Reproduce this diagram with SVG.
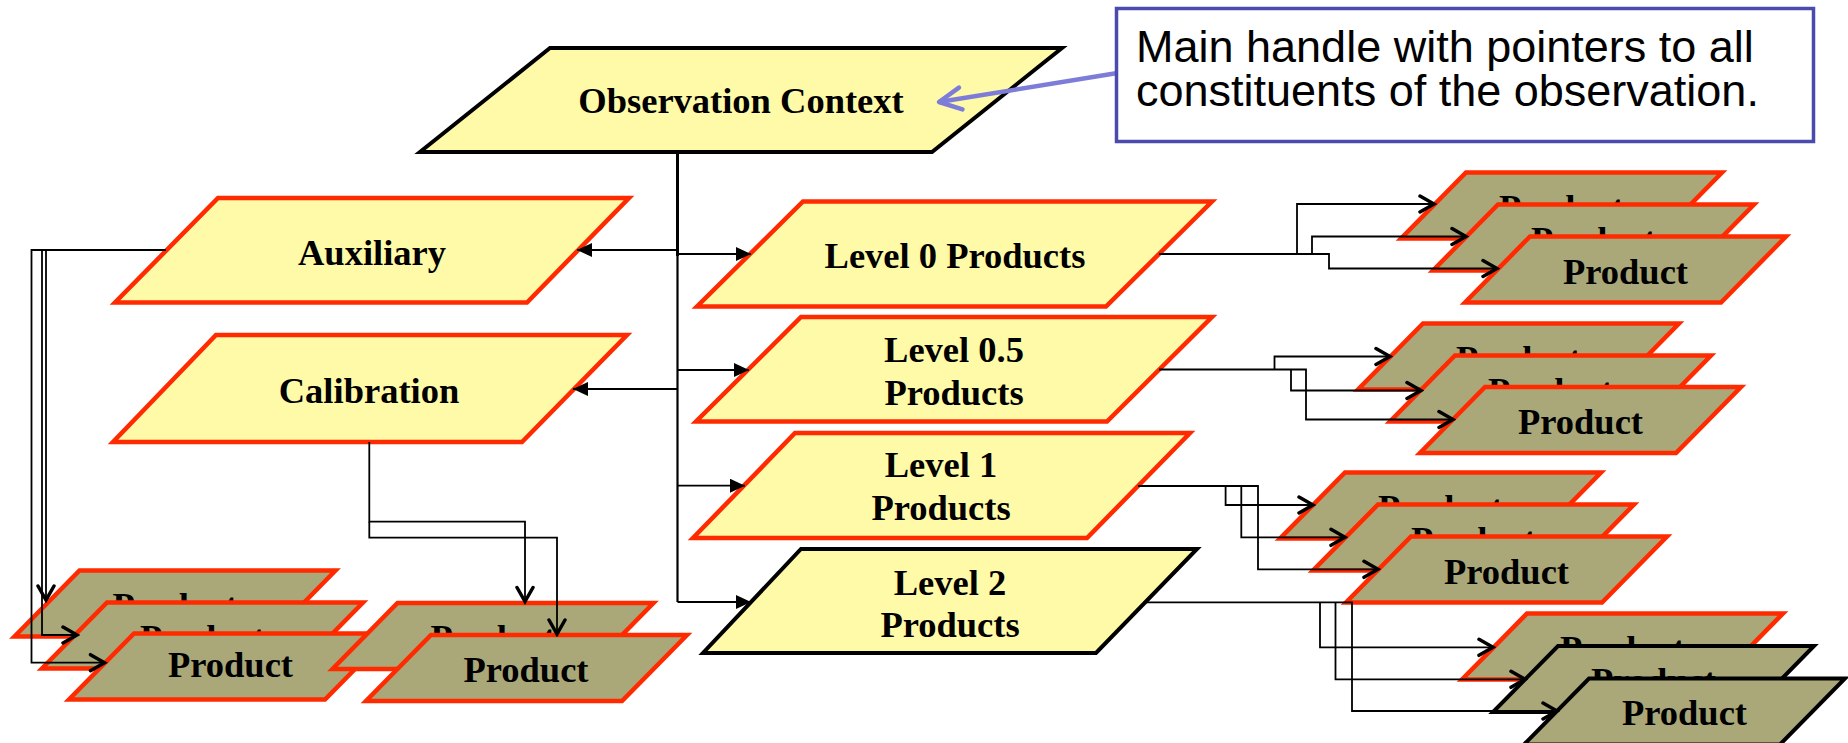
<svg xmlns="http://www.w3.org/2000/svg" xmlns:xlink="http://www.w3.org/1999/xlink" width="1848" height="743" viewBox="0 0 1848 743">
  <style>
    .node { fill: #fffaa8; stroke-linejoin: miter; }
    .red { stroke: #ff2a00; stroke-width: 4.5; }
    .blk { stroke: #000000; stroke-width: 4; }
    .prod { fill: #aaa878; stroke-linejoin: miter; }
    .lbl { font-family: "Liberation Serif", "Times New Roman", serif; font-weight: bold; font-size: 36.5px; text-anchor: middle; fill: #000; }
    .note-txt { font-family: "Liberation Sans", Arial, sans-serif; font-size: 45px; fill: #000; }
    .wire { fill: none; stroke: #000; stroke-width: 1.8; }
    .trunk { fill: none; stroke: #000; stroke-width: 3; }
  </style>
  <defs>
    <!-- product parallelogram, origin at bounding-box top-left -->
    <path id="prodShape" d="M65,0 H321 L256,66 H0 Z"/>
    <marker id="tri" viewBox="0 0 15 14" refX="15" refY="7" markerWidth="15" markerHeight="14" markerUnits="userSpaceOnUse" orient="auto">
      <path d="M0,0 L15,7 L0,14 Z" fill="#000"/>
    </marker>
    <marker id="vee" viewBox="-17 -11 20 22" refX="0" refY="0" markerWidth="20" markerHeight="22" markerUnits="userSpaceOnUse" orient="auto">
      <path d="M-14,-8 L0,0 L-14,8" fill="none" stroke="#000" stroke-width="3.5" stroke-linecap="round" stroke-linejoin="miter"/>
    </marker>
    <marker id="veeBlue" viewBox="-26 -15 30 30" refX="0" refY="0" markerWidth="30" markerHeight="30" markerUnits="userSpaceOnUse" orient="auto">
      <path d="M-22,-11 L0,0 L-22,11" fill="none" stroke="#7d7dd9" stroke-width="4.5" stroke-linecap="round" stroke-linejoin="round"/>
    </marker>
  </defs>

  <rect width="1848" height="743" fill="#ffffff"/>

  <!-- main nodes -->
  <g id="n-obs">
    <polygon class="node blk" points="550,48 1062,48 932,152 420,152"/>
    <text class="lbl" x="741" y="113">Observation Context</text>
  </g>
  <g id="n-aux">
    <polygon class="node red" points="218,198 629,198 527,302.5 115,302.5"/>
    <text class="lbl" x="372" y="265">Auxiliary</text>
  </g>
  <g id="n-cal">
    <polygon class="node red" points="216,335 627,335 522,442 113,442"/>
    <text class="lbl" x="369" y="403">Calibration</text>
  </g>
  <g id="n-l0">
    <polygon class="node red" points="803,201.5 1212,201.5 1106,306.5 697,306.5"/>
    <text class="lbl" x="955" y="268">Level 0 Products</text>
  </g>
  <g id="n-l05">
    <polygon class="node red" points="801,317 1212,317 1107,421.5 696,421.5"/>
    <text class="lbl" x="954" y="362">Level 0.5</text>
    <text class="lbl" x="954" y="405">Products</text>
  </g>
  <g id="n-l1">
    <polygon class="node red" points="795,433 1190,433 1087,538 693,538"/>
    <text class="lbl" x="941" y="477">Level 1</text>
    <text class="lbl" x="941" y="520">Products</text>
  </g>
  <g id="n-l2">
    <polygon class="node blk" points="801,549 1197,549 1096,653 703,653"/>
    <text class="lbl" x="950" y="595">Level 2</text>
    <text class="lbl" x="950" y="637">Products</text>
  </g>

  <!-- Level 0 product stack -->
  <g id="p-l0-1"><use xlink:href="#prodShape" x="1401" y="172.5" class="prod red"/><text class="lbl" x="1561.5" y="219.5">Product</text></g>
  <g id="p-l0-2"><use xlink:href="#prodShape" x="1433" y="204.5" class="prod red"/><text class="lbl" x="1593.5" y="251.5">Product</text></g>
  <g id="p-l0-3"><use xlink:href="#prodShape" x="1465" y="236.5" class="prod red"/><text class="lbl" x="1625.5" y="283.5">Product</text></g>

  <!-- Level 0.5 product stack -->
  <g id="p-l05-1"><use xlink:href="#prodShape" x="1358" y="323.5" class="prod red"/><text class="lbl" x="1518.5" y="370.5">Product</text></g>
  <g id="p-l05-2"><use xlink:href="#prodShape" x="1390" y="355.5" class="prod red"/><text class="lbl" x="1550.5" y="402.5">Product</text></g>
  <g id="p-l05-3"><use xlink:href="#prodShape" x="1420" y="387" class="prod red"/><text class="lbl" x="1580.5" y="434">Product</text></g>

  <!-- Level 1 product stack -->
  <g id="p-l1-1"><use xlink:href="#prodShape" x="1280" y="472.5" class="prod red"/><text class="lbl" x="1440.5" y="519.5">Product</text></g>
  <g id="p-l1-2"><use xlink:href="#prodShape" x="1313" y="504.5" class="prod red"/><text class="lbl" x="1473.5" y="551.5">Product</text></g>
  <g id="p-l1-3"><use xlink:href="#prodShape" x="1346" y="536.5" class="prod red"/><text class="lbl" x="1506.5" y="583.5">Product</text></g>

  <!-- Level 2 product stack -->
  <g id="p-l2-1"><use xlink:href="#prodShape" x="1462" y="613.5" class="prod red"/><text class="lbl" x="1622.5" y="660.5">Product</text></g>
  <g id="p-l2-2"><use xlink:href="#prodShape" x="1493" y="646" class="prod blk"/><text class="lbl" x="1653.5" y="693">Product</text></g>
  <g id="p-l2-3"><use xlink:href="#prodShape" x="1524" y="678.5" class="prod blk"/><text class="lbl" x="1684.5" y="725">Product</text></g>

  <!-- Auxiliary product stack -->
  <g id="p-aux-1"><use xlink:href="#prodShape" x="14.5" y="570.5" class="prod red"/><text class="lbl" x="175" y="617.5">Product</text></g>
  <g id="p-aux-2"><use xlink:href="#prodShape" x="42" y="602.5" class="prod red"/><text class="lbl" x="202.5" y="649.5">Product</text></g>
  <g id="p-aux-3"><use xlink:href="#prodShape" x="69" y="633.5" class="prod red"/><text class="lbl" x="230.5" y="677">Product</text></g>

  <!-- Calibration product stack -->
  <g id="p-cal-1"><use xlink:href="#prodShape" x="332.5" y="603" class="prod red"/><text class="lbl" x="493" y="650">Product</text></g>
  <g id="p-cal-2"><use xlink:href="#prodShape" x="366" y="635" class="prod red"/><text class="lbl" x="526" y="682">Product</text></g>

  <!-- connectors -->
  <g id="connectors">
    <!-- trunk from Observation Context -->
    <path class="trunk" d="M677.5,152 V256"/>
    <path class="wire" style="stroke-width:2.2" d="M677.5,254 V602"/>
    <path class="wire" d="M677.5,250 H577" marker-end="url(#tri)"/>
    <path class="wire" d="M677.5,254 H751" marker-end="url(#tri)"/>
    <path class="wire" d="M677.5,370 H749" marker-end="url(#tri)"/>
    <path class="wire" d="M677.5,389 H573" marker-end="url(#tri)"/>
    <path class="wire" d="M677.5,485.7 H745" marker-end="url(#tri)"/>
    <path class="wire" d="M677.5,602 H751" marker-end="url(#tri)"/>

    <!-- Level 0 to products -->
    <path class="wire" d="M1159,254 H1329 V268.5 H1497" marker-end="url(#vee)"/>
    <path class="wire" d="M1297,254 V204 H1434" marker-end="url(#vee)"/>
    <path class="wire" d="M1312,254 V236.5 H1466" marker-end="url(#vee)"/>

    <!-- Level 0.5 to products -->
    <path class="wire" d="M1159,369.5 H1306 V419.5 H1453" marker-end="url(#vee)"/>
    <path class="wire" d="M1274.5,369.5 V356.5 H1390" marker-end="url(#vee)"/>
    <path class="wire" d="M1291,369.5 V390.5 H1421" marker-end="url(#vee)"/>

    <!-- Level 1 to products -->
    <path class="wire" d="M1138,486 H1258 V569.3 H1378" marker-end="url(#vee)"/>
    <path class="wire" d="M1225.6,486 V505 H1313" marker-end="url(#vee)"/>
    <path class="wire" d="M1241.3,486 V537.3 H1345" marker-end="url(#vee)"/>

    <!-- Level 2 to products -->
    <path class="wire" d="M1145,602.3 H1352 V711 H1557" marker-end="url(#vee)"/>
    <path class="wire" d="M1320,602.3 V647.3 H1493" marker-end="url(#vee)"/>
    <path class="wire" d="M1335.5,602.3 V679.3 H1525" marker-end="url(#vee)"/>

    <!-- Auxiliary to products -->
    <path class="wire" d="M166,250 H31.5 V662.7 H104.5" marker-end="url(#vee)"/>
    <path class="wire" d="M46,250 V600" marker-end="url(#vee)"/>
    <path class="wire" d="M42,250 V635 H77" marker-end="url(#vee)"/>

    <!-- Calibration to products -->
    <path class="wire" d="M369.3,442 V521.7 H525 V601.5" marker-end="url(#vee)"/>
    <path class="wire" d="M369.3,521.7 V537.7 H557 V634" marker-end="url(#vee)"/>

    <!-- note pointer -->
    <path d="M1116,73.3 L939,102" fill="none" stroke="#7d7dd9" stroke-width="4.5" marker-end="url(#veeBlue)"/>
  </g>

  <!-- note box -->
  <g id="note">
    <rect x="1116.5" y="8.5" width="697" height="133" fill="#ffffff" stroke="#4b4bad" stroke-width="3.5"/>
    <text class="note-txt" x="1136" y="62">Main handle with pointers to all</text>
    <text class="note-txt" x="1136" y="106">constituents of the observation.</text>
  </g>
</svg>
